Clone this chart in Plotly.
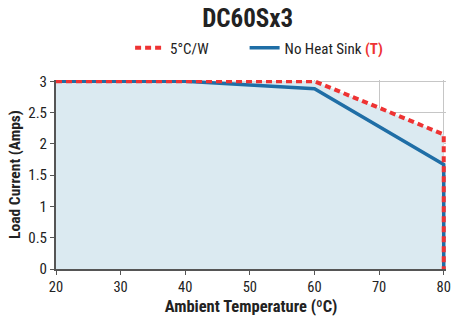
import plotly.graph_objects as go

temp_5cw = [20, 60, 80, 80]
curr_5cw = [3.0, 3.0, 2.15, 0.0]
temp_nhs = [20, 40, 60, 80, 80]
curr_nhs = [3.0, 3.0, 2.88, 1.67, 0.0]
x_ticks = [20, 30, 40, 50, 60, 70, 80]
y_ticks = [0, 0.5, 1, 1.5, 2, 2.5, 3]
y_tick_labels = ["0", "0.5", "1", "1.5", "2", "2.5", "3"]

FONT = "Roboto Condensed, Liberation Sans Narrow, Roboto, sans-serif"
RED = "#ee3333"
BLUE = "#1f6ea6"

fig = go.Figure()
fig.add_trace(go.Scatter(x=temp_5cw, y=curr_5cw, mode="lines", fill="tozeroy",
                         fillcolor="#dbeaf1", line=dict(width=0), showlegend=False,
                         hoverinfo="skip"))
fig.add_trace(go.Scatter(x=temp_nhs, y=curr_nhs, mode="lines",
                         name='No Heat Sink <b><span style="color:#ee3333">(T)</span></b>',
                         line=dict(color=BLUE, width=3.5)))
fig.add_trace(go.Scatter(x=temp_5cw, y=curr_5cw, mode="lines", name="5°C/W" + "&nbsp;" * 9,
                         line=dict(color=RED, width=4, dash="6px,4px")))

fig.update_layout(
    width=452, height=320,
    margin=dict(l=56, r=6, t=80, b=51, autoexpand=False),
    paper_bgcolor="white", plot_bgcolor="white",
    font=dict(family=FONT, size=15, color="#222"),
    title=dict(text="<b>DC60Sx3</b>", x=0.548, xanchor="center", y=0.944, yanchor="middle",
               font=dict(size=25, family=FONT, color="#222")),
    legend=dict(orientation="h", x=0.19, xanchor="left", y=1.169, yanchor="middle",
                traceorder="reversed", font=dict(size=15), itemwidth=30),
    xaxis=dict(range=[20, 80.35], tickvals=x_ticks, showgrid=True, gridcolor="#c6c6c6",
               gridwidth=1.2, showline=True, linecolor="#555", linewidth=2,
               ticks="outside", ticklen=4, tickcolor="#555", tickfont=dict(size=14.5),
               title=dict(text="<b>Ambient Temperature (ºC)</b>", font=dict(size=16.5), standoff=5),
               zeroline=False, automargin=False),
    yaxis=dict(range=[0, 3.02], tickvals=y_ticks, ticktext=y_tick_labels, showgrid=True,
               gridcolor="#c6c6c6", gridwidth=1.2, showline=True, linecolor="#555",
               linewidth=2, ticks="outside", ticklen=4, tickcolor="#555", tickfont=dict(size=15),
               title=dict(text="<b>Load Current (Amps)</b>", font=dict(size=15.5), standoff=4),
               zeroline=False, automargin=False),
)
fig.write_html("out.html", config={"displayModeBar": False},
               post_script="document.body.style.margin='0';")
